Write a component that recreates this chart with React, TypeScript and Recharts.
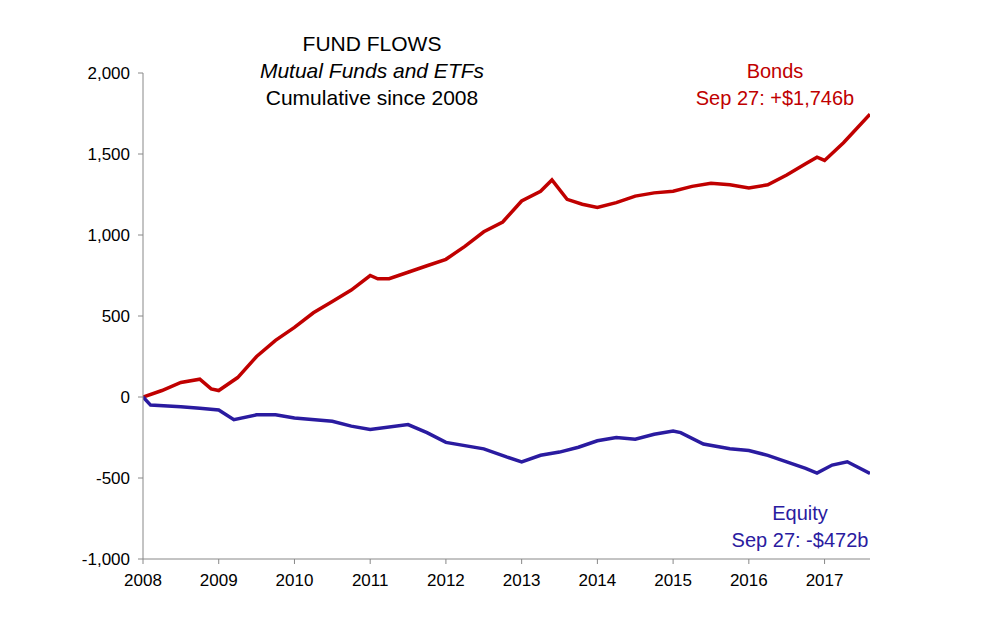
import React from "react";
import { LineChart, Line, XAxis, YAxis } from "recharts";

const bondX = [2008,2008.25,2008.5,2008.75,2008.9,2009,2009.25,2009.5,2009.75,2010,2010.25,2010.5,2010.75,2011,2011.1,2011.25,2011.5,2011.75,2012,2012.25,2012.5,2012.75,2013,2013.25,2013.4,2013.6,2013.8,2014,2014.25,2014.5,2014.75,2015,2015.25,2015.5,2015.75,2016,2016.25,2016.5,2016.75,2016.9,2017,2017.25,2017.6];
const bondY = [0,40,90,110,50,40,120,250,350,430,520,590,660,750,730,730,770,810,850,930,1020,1080,1210,1270,1340,1220,1190,1170,1200,1240,1260,1270,1300,1320,1310,1290,1310,1370,1440,1480,1460,1570,1746];
const eqX = [2008,2008.1,2008.5,2008.75,2009,2009.2,2009.5,2009.75,2010,2010.5,2010.75,2011,2011.5,2011.75,2012,2012.5,2012.8,2013,2013.25,2013.5,2013.75,2014,2014.25,2014.5,2014.75,2015,2015.1,2015.4,2015.75,2016,2016.25,2016.5,2016.75,2016.9,2017.1,2017.3,2017.6];
const eqY = [0,-50,-60,-70,-80,-140,-110,-110,-130,-150,-180,-200,-170,-220,-280,-320,-370,-400,-360,-340,-310,-270,-250,-260,-230,-210,-220,-290,-320,-330,-360,-400,-440,-470,-420,-400,-472];
const xTicks = [2008,2009,2010,2011,2012,2013,2014,2015,2016,2017];
const yTicks = [-1000,-500,0,500,1000,1500,2000];

const bonds = bondX.map((x, i) => ({ x, y: bondY[i] }));
const equity = eqX.map((x, i) => ({ x, y: eqY[i] }));

const font = "'Liberation Sans', Arial, sans-serif";
const lbl = (s: React.CSSProperties): React.CSSProperties => ({ position: "absolute", fontFamily: font, fontSize: 20, textAlign: "center", lineHeight: "27px", ...s });

export default function App() {
  return (
    <div style={{ position: "absolute", left: 0, top: 0, width: 1000, height: 634, background: "#fff" }}>
      <LineChart width={1000} height={634} margin={{ top: 73, right: 130, bottom: 45, left: 0 }}>
        <XAxis dataKey="x" type="number" domain={[2008, 2017.6]} ticks={xTicks} allowDataOverflow
          height={30} stroke="#888" tick={{ fill: "#000", fontSize: 17, fontFamily: font }} tickSize={5} tickMargin={10} />
        <YAxis type="number" domain={[-1000, 2000]} ticks={yTicks} width={143} stroke="#888"
          tickFormatter={(v: number) => v.toLocaleString("en-US")}
          tick={{ fill: "#000", fontSize: 17, fontFamily: font }} tickSize={5} tickMargin={8} />
        <Line data={bonds} dataKey="y" stroke="#c00000" strokeWidth={3.5} dot={false} isAnimationActive={false} />
        <Line data={equity} dataKey="y" stroke="#2a1ba0" strokeWidth={3.5} dot={false} isAnimationActive={false} />
      </LineChart>
      <div style={lbl({ left: 222, top: 30, width: 300, fontSize: 21 })}>FUND FLOWS<br /><i>Mutual Funds and ETFs</i><br />Cumulative since 2008</div>
      <div style={lbl({ left: 625, top: 58, width: 300, color: "#c00000" })}>Bonds<br />Sep 27: +$1,746b</div>
      <div style={lbl({ left: 650, top: 500, width: 300, color: "#2a1ba0" })}>Equity<br />Sep 27: -$472b</div>
    </div>
  );
}
